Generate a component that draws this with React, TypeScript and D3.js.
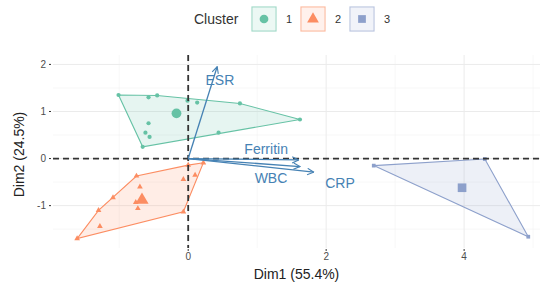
import React from 'react';
import * as d3 from 'd3';

const W = 542;
const H = 294;
const margin = { top: 55, right: 2, bottom: 46, left: 53 };

// individuals per cluster [Dim1, Dim2]
const cluster1: [number, number][] = [
  [-1.01, 1.35], [-0.575, 1.3], [-0.45, 1.34], [-0.01, 1.23], [0.13, 1.19],
  [0.75, 1.17], [1.62, 0.83], [0.44, 0.55], [-0.66, 0.25], [-0.575, 0.75],
  [-0.62, 0.55], [-0.56, 0.46],
];
const cluster2: [number, number][] = [
  [-1.61, -1.7], [-1.3, -1.1], [-1.09, -0.83], [-0.75, -0.37], [0.22, -0.09],
  [0.0, -0.14], [-0.07, -0.44], [0.1, -0.35], [-0.07, -1.13], [-1.28, -1.44],
  [-0.7, -0.6], [-0.73, -1.06], [-0.76, -0.93],
];
const cluster3: [number, number][] = [[2.69, -0.15], [4.3, -0.01], [4.93, -1.66]];
const centroids: [number, number][] = [[-0.17, 0.96], [-0.67, -0.88], [3.97, -0.62]];

const clusterNames = ['1', '2', '3'];
const clusterColors = ['#66C2A5', '#FC8D62', '#8DA0CB'];

// variable arrows
const varNames = ['ESR', 'Ferritin', 'WBC', 'CRP'];
const varTips: [number, number][] = [[0.42, 1.95], [1.6, -0.03], [1.62, -0.17], [1.82, -0.29]];
const varLabels: [number, number][] = [[0.46, 1.66], [1.13, 0.2], [1.2, -0.42], [2.2, -0.52]];

const xTicks = [0, 2, 4];
const yTicks = [-1, 0, 1, 2];
const xMinor = [-1, 1, 3, 5];
const yMinor = [-1.5, -0.5, 0.5, 1.5];

const x = d3.scaleLinear().domain([-1.96, 5.1]).range([margin.left, W - margin.right]);
const y = d3.scaleLinear().domain([-1.9, 2.2]).range([H - margin.bottom, margin.top]);

const symbols = [d3.symbolCircle, d3.symbolTriangle, d3.symbolSquare];
const arrowColor = '#4682B4';
const font = 'Liberation Sans, Arial, sans-serif';

export default function App() {
  const clusters = [cluster1, cluster2, cluster3];
  const [x0, x1] = x.range();
  const [y0, y1] = y.range();

  return (
    <svg width={W} height={H} style={{ position: 'absolute', left: 0, top: 0, background: '#fff' }} fontFamily={font}>
      <defs>
        <marker id="arr" viewBox="0 0 10 10" refX="9" refY="5" markerWidth="8" markerHeight="8" orient="auto" markerUnits="userSpaceOnUse">
          <path d="M1,1 L9,5 L1,9" fill="none" stroke={arrowColor} strokeWidth={1.4} />
        </marker>
      </defs>

      {/* grid */}
      {xMinor.map(v => (
        <line key={'xm' + v} x1={x(v)} x2={x(v)} y1={y1} y2={y0} stroke="#f2f2f2" strokeWidth={0.6} />
      ))}
      {yMinor.map(v => (
        <line key={'ym' + v} x1={x0} x2={x1} y1={y(v)} y2={y(v)} stroke="#f2f2f2" strokeWidth={0.6} />
      ))}
      {xTicks.map(v => (
        <line key={'xg' + v} x1={x(v)} x2={x(v)} y1={y1} y2={y0} stroke="#ebebeb" strokeWidth={1} />
      ))}
      {yTicks.map(v => (
        <line key={'yg' + v} x1={x0} x2={x1} y1={y(v)} y2={y(v)} stroke="#ebebeb" strokeWidth={1} />
      ))}

      {/* hulls */}
      {clusters.map((pts, i) => {
        const hull = d3.polygonHull(pts.map(p => [x(p[0]), y(p[1])] as [number, number]));
        return hull ? (
          <path key={'h' + i} d={'M' + hull.join('L') + 'Z'} fill={clusterColors[i]} fillOpacity={0.16}
            stroke={clusterColors[i]} strokeWidth={1.1} />
        ) : null;
      })}

      {/* points */}
      {clusters.map((pts, i) =>
        pts.map((p, j) => (
          <path key={'p' + i + '-' + j} transform={`translate(${x(p[0])},${y(p[1])})`}
            d={d3.symbol(symbols[i], 14)() || ''} fill={clusterColors[i]} />
        ))
      )}
      {centroids.map((p, i) => (
        <path key={'c' + i} transform={`translate(${x(p[0])},${y(p[1])})`}
          d={d3.symbol(symbols[i], 75)() || ''} fill={clusterColors[i]} />
      ))}

      {/* reference lines */}
      <line x1={x0} x2={x1} y1={y(0)} y2={y(0)} stroke="#333" strokeWidth={1.8} strokeDasharray="6,4" />
      <line x1={x(0)} x2={x(0)} y1={y1} y2={y0} stroke="#333" strokeWidth={1.8} strokeDasharray="6,4" />

      {/* variable arrows */}
      {varNames.map((n, i) => (
        <g key={n}>
          <line x1={x(0)} y1={y(0)} x2={x(varTips[i][0])} y2={y(varTips[i][1])} stroke={arrowColor}
            strokeWidth={1.3} markerEnd="url(#arr)" />
          <text x={x(varLabels[i][0])} y={y(varLabels[i][1])} dy="0.35em" textAnchor="middle" fontSize={14}
            fill={arrowColor}>{n}</text>
        </g>
      ))}

      {/* axes */}
      {xTicks.map(v => (
        <g key={'xt' + v}>
          <line x1={x(v)} x2={x(v)} y1={y0 + 1} y2={y0 + 3} stroke="#333" strokeWidth={1} />
          <text x={x(v)} y={y0 + 12} textAnchor="middle" fontSize={10} fill="#4d4d4d">{v}</text>
        </g>
      ))}
      {yTicks.map(v => (
        <g key={'yt' + v}>
          <line x1={x0 - 4} x2={x0 - 2} y1={y(v)} y2={y(v)} stroke="#333" strokeWidth={1} />
          <text x={x0 - 7} y={y(v)} dy="0.35em" textAnchor="end" fontSize={10} fill="#4d4d4d">{v}</text>
        </g>
      ))}
      <text x={(x0 + x1) / 2} y={H - 15} textAnchor="middle" fontSize={14} fill="#222">Dim1 (55.4%)</text>
      <text transform={`translate(24,${(y0 + y1) / 2 + 3}) rotate(-90)`} textAnchor="middle" fontSize={14} fill="#222">Dim2 (24.5%)</text>

      {/* legend */}
      <text x={194} y={19} dy="0.35em" fontSize={14} fill="#333">Cluster</text>
      {clusterNames.map((n, i) => {
        const bx = 252 + i * 49;
        return (
          <g key={'lg' + n}>
            <rect x={bx} y={7} width={24} height={24} fill="#fff" stroke={clusterColors[i]} strokeOpacity={0.6} strokeWidth={1.2} />
            <rect x={bx + 1} y={8} width={22} height={22} fill={clusterColors[i]} fillOpacity={0.12} />
            <path transform={`translate(${bx + 12},${19})`} d={d3.symbol(symbols[i], 60)() || ''} fill={clusterColors[i]} />
            <text x={bx + 34} y={19} dy="0.35em" fontSize={11} fill="#333">{n}</text>
          </g>
        );
      })}
    </svg>
  );
}
